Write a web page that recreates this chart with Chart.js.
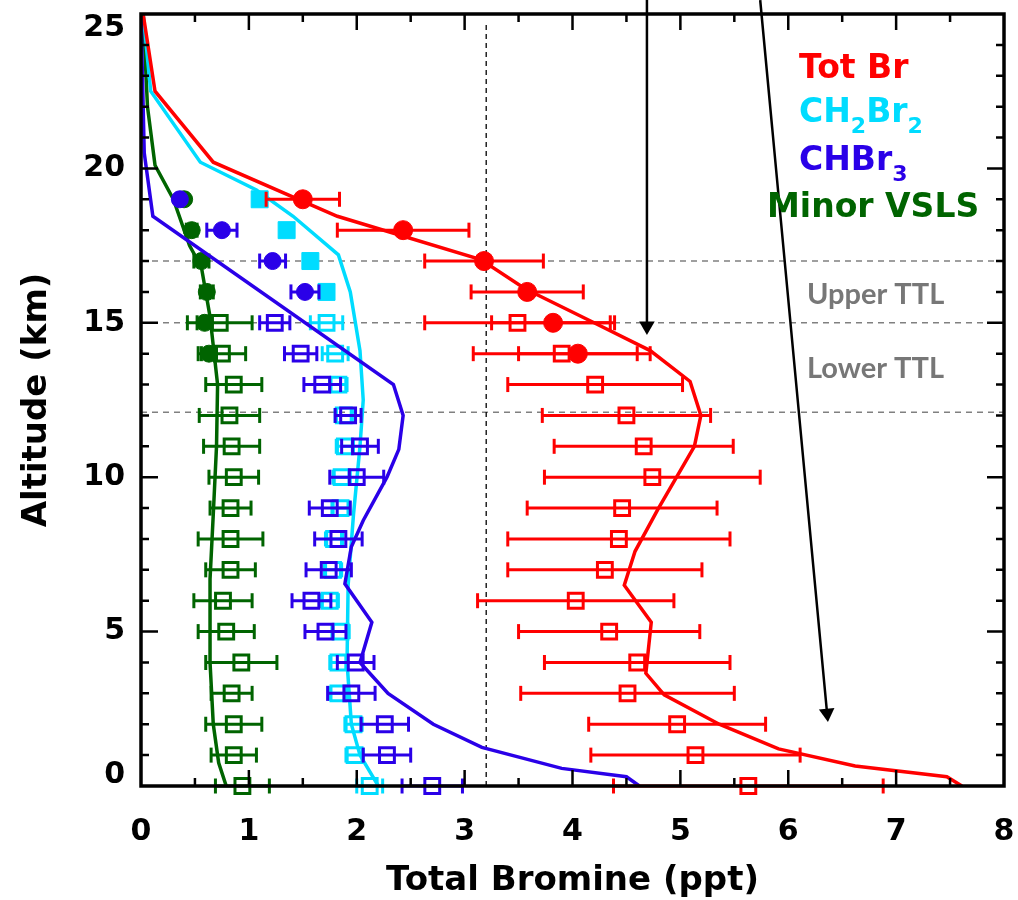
<!DOCTYPE html>
<html>
<head>
<meta charset="utf-8">
<script src="https://cdn.jsdelivr.net/npm/chart.js@4.4.1/dist/chart.umd.min.js"></script>
<style>
  html, body { margin: 0; padding: 0; background: #fff; }
  canvas { display: block; }
</style>
</head>
<body>
<canvas id="chart" width="1018" height="900"></canvas>
<script>
// altitude levels (km)
const sqAlt = [0, 1, 2, 3, 4, 5, 6, 7, 8, 9, 10, 11, 12, 13, 14, 15];
const fillAlt = [14, 15, 16, 17, 18, 19];
const upperAlt = [16, 17, 18, 19];

// open squares (0-15 km)
const totBrSq = [5.63, 5.14, 4.97, 4.51, 4.60, 4.34, 4.03, 4.30, 4.43, 4.46, 4.74, 4.66, 4.50, 4.21, 3.90, 3.49];
const totBrSqErr = [1.25, 0.97, 0.82, 0.99, 0.86, 0.84, 0.91, 0.90, 1.03, 0.88, 1.00, 0.83, 0.78, 0.81, 0.82, 0.86];
const ch2br2Sq = [2.12, 1.98, 1.97, 1.83, 1.83, 1.85, 1.75, 1.78, 1.79, 1.85, 1.86, 1.89, 1.88, 1.83, 1.80, 1.72];
const ch2br2SqErr = [0.12, 0.08, 0.08, 0.08, 0.08, 0.08, 0.08, 0.08, 0.08, 0.08, 0.08, 0.08, 0.08, 0.08, 0.12, 0.15];
const chbr3Sq = [2.70, 2.28, 2.26, 1.95, 1.99, 1.71, 1.58, 1.74, 1.83, 1.75, 2.00, 2.03, 1.92, 1.68, 1.48, 1.24];
const chbr3SqErr = [0.28, 0.22, 0.22, 0.22, 0.17, 0.19, 0.18, 0.21, 0.22, 0.19, 0.25, 0.17, 0.12, 0.17, 0.15, 0.14];
const minorSq = [0.94, 0.86, 0.86, 0.84, 0.93, 0.79, 0.76, 0.83, 0.83, 0.83, 0.86, 0.84, 0.82, 0.86, 0.75, 0.73];
const minorSqErr = [0.25, 0.21, 0.26, 0.19, 0.33, 0.26, 0.27, 0.23, 0.30, 0.19, 0.23, 0.26, 0.28, 0.26, 0.22, 0.30];

// filled symbols (upper levels)
const totBrFill = [4.05, 3.82, 3.58, 3.18, 2.43, 1.50];
const totBrFillErr = [0.55, 0.57, 0.52, 0.55, 0.61, 0.34];
const minorFill = [0.63, 0.59, 0.61, 0.56, 0.47, 0.40];
const minorFillErr = [0.07, 0.07, 0.06, 0.07, 0.05, 0.03];
const ch2br2Fill = [1.72, 1.57, 1.35, 1.10];
const ch2br2FillErr = [0.04, 0.05, 0.05, 0.04];
const chbr3Fill = [1.52, 1.22, 0.75, 0.36];
const chbr3FillErr = [0.13, 0.12, 0.14, 0.03];

// model profiles
const totBrModelAlt = [0, 0.3, 0.65, 1.2, 2.0, 2.95, 3.65, 5.3, 6.5, 7.6, 8.95, 11.0, 12.0, 13.1, 14.1, 15.0, 16.1, 17.05, 18.45, 20.2, 22.5, 25];
const totBrModel = [7.61, 7.47, 6.62, 5.91, 5.36, 4.85, 4.68, 4.73, 4.48, 4.58, 4.79, 5.13, 5.19, 5.09, 4.72, 4.20, 3.56, 3.15, 1.82, 0.67, 0.13, 0.02];
const ch2br2ModelAlt = [0, 1, 2, 4, 6.5, 8.8, 11, 12.5, 14.1, 16, 17.2, 18.45, 19.3, 20.2, 22.5, 25];
const ch2br2Model = [2.20, 2.03, 1.95, 1.91, 1.92, 1.97, 2.03, 2.06, 2.03, 1.94, 1.83, 1.41, 1.07, 0.55, 0.09, 0.02];
const chbr3ModelAlt = [0, 0.3, 0.57, 1.25, 2.0, 3.0, 4.0, 5.3, 6.55, 7.75, 8.6, 10, 10.9, 12, 13, 18.45, 20.5, 25];
const chbr3Model = [4.62, 4.50, 3.90, 3.16, 2.71, 2.29, 2.03, 2.14, 1.89, 1.95, 2.06, 2.28, 2.39, 2.43, 2.34, 0.11, 0.03, 0.0];
const minorModelAlt = [0, 0.75, 2, 4, 6.7, 8.8, 11, 13, 15.2, 16.8, 17.5, 19, 20.1, 22, 25];
const minorModel = [0.79, 0.72, 0.67, 0.64, 0.64, 0.67, 0.70, 0.71, 0.64, 0.56, 0.45, 0.30, 0.13, 0.06, 0.02];

// reference lines
const ttlAlt = [17, 15, 12.1];
const refX = 3.2;
const refTop = 24.65;

// arrows from the (cropped) panel title: [start, end]
const arrow1X = [4.69, 4.69];
const arrow1Y = [25.45, 14.9];
const arrow2X = [5.74, 6.36];
const arrow2Y = [25.45, 2.36];

const RED = '#ff0000';
const CYAN = '#00dcff';
const BLUE = '#2a00e8';
const GREEN = '#006400';
const FONT = "'DejaVu Sans', sans-serif";

const pts = (vals, alts) => vals.map((v, i) => ({ x: v, y: alts[i] }));
function errSegs(vals, errs, alts) {
  const out = [];
  vals.forEach((v, i) => {
    out.push({ x: v - errs[i], y: alts[i] }, { x: v + errs[i], y: alts[i] }, { x: null, y: null });
  });
  return out;
}

const datasets = [];
function add(ds) {
  ds.order = 1000 - datasets.length;   // later added is drawn on top
  datasets.push(ds);
}

// dashed guides
ttlAlt.forEach(a => add({
  data: [{ x: 0, y: a }, { x: 8, y: a }],
  showLine: true, borderColor: '#808080', borderWidth: 1.5, borderDash: [6, 5], pointRadius: 0
}));
add({
  data: [{ x: refX, y: 0 }, { x: refX, y: refTop }],
  showLine: true, borderColor: '#000', borderWidth: 1.3, borderDash: [5, 4], pointRadius: 0
});

function profile(vals, alts, color) {
  add({ data: pts(vals, alts), showLine: true, borderColor: color, borderWidth: 3.5, pointRadius: 0 });
}
function errorBars(vals, errs, alts, color) {
  add({
    data: errSegs(vals, errs, alts), showLine: true, spanGaps: false,
    borderColor: color, borderWidth: 3,
    pointStyle: 'line', pointRotation: 90, pointRadius: 7.5,
    pointBorderColor: color, pointBorderWidth: 3, clip: false
  });
}
function openSquares(vals, alts, color) {
  add({
    data: pts(vals, alts), showLine: false, pointStyle: 'rect', pointRadius: 10.5,
    pointBorderColor: color, pointBorderWidth: 3, pointBackgroundColor: 'rgba(0,0,0,0)', clip: false
  });
}
function filled(vals, alts, color, style, r) {
  add({
    data: pts(vals, alts), showLine: false, pointStyle: style, pointRadius: r,
    pointBorderColor: color, pointBorderWidth: 1, pointBackgroundColor: color, clip: false
  });
}

// Minor VSLS
profile(minorModel, minorModelAlt, GREEN);
errorBars(minorSq, minorSqErr, sqAlt, GREEN);
errorBars(minorFill, minorFillErr, fillAlt, GREEN);
openSquares(minorSq, sqAlt, GREEN);
filled(minorFill, fillAlt, GREEN, 'circle', 8.5);

// CH2Br2
profile(ch2br2Model, ch2br2ModelAlt, CYAN);
errorBars(ch2br2Sq, ch2br2SqErr, sqAlt, CYAN);
errorBars(ch2br2Fill, ch2br2FillErr, upperAlt, CYAN);
openSquares(ch2br2Sq, sqAlt, CYAN);
filled(ch2br2Fill, upperAlt, CYAN, 'rect', 12);

// CHBr3
profile(chbr3Model, chbr3ModelAlt, BLUE);
errorBars(chbr3Sq, chbr3SqErr, sqAlt, BLUE);
errorBars(chbr3Fill, chbr3FillErr, upperAlt, BLUE);
openSquares(chbr3Sq, sqAlt, BLUE);
filled(chbr3Fill, upperAlt, BLUE, 'circle', 8.5);

// Total Br
profile(totBrModel, totBrModelAlt, RED);
errorBars(totBrSq, totBrSqErr, sqAlt, RED);
errorBars(totBrFill, totBrFillErr, fillAlt, RED);
openSquares(totBrSq, sqAlt, RED);
filled(totBrFill, fillAlt, RED, 'circle', 9.5);

// arrows
add({
  data: pts(arrow1X, arrow1Y), showLine: true, borderColor: '#000', borderWidth: 2.5,
  pointStyle: ['circle', 'triangle'], pointRadius: [7, 9], pointRotation: [0, 180],
  pointBackgroundColor: '#000', pointBorderColor: '#000', pointBorderWidth: 0, clip: false
});
add({
  data: pts(arrow2X, arrow2Y), showLine: true, borderColor: '#000', borderWidth: 2.5,
  pointStyle: 'triangle', pointRadius: [0, 9], pointRotation: [0, 174.6],
  pointBackgroundColor: '#000', pointBorderColor: '#000', pointBorderWidth: 0, clip: false
});

// frame with inward ticks on all four sides, y labels kept inside the frame height
const framePlugin = {
  id: 'frame',
  afterDatasetsDraw(chart) {
    const { ctx, chartArea: a, scales: { x, y } } = chart;
    ctx.save();
    ctx.strokeStyle = '#000';
    ctx.lineWidth = 2.5;
    ctx.beginPath();
    for (let v = 0.5; v < 8; v += 0.5) {
      const px = x.getPixelForValue(v);
      const len = v % 1 === 0 ? 16 : 8;
      ctx.moveTo(px, a.bottom); ctx.lineTo(px, a.bottom - len);
      ctx.moveTo(px, a.top); ctx.lineTo(px, a.top + len);
    }
    for (let v = 1; v < 25; v += 1) {
      const py = y.getPixelForValue(v);
      const len = v % 5 === 0 ? 17 : 8;
      ctx.moveTo(a.left, py); ctx.lineTo(a.left + len, py);
      ctx.moveTo(a.right, py); ctx.lineTo(a.right - len, py);
    }
    ctx.stroke();
    ctx.lineWidth = 3.5;
    ctx.strokeRect(a.left, a.top, a.right - a.left, a.bottom - a.top);

    ctx.fillStyle = '#000';
    ctx.font = `bold 30px ${FONT}`;
    ctx.textAlign = 'right';
    ctx.textBaseline = 'middle';
    y.ticks.forEach(t => {
      const py = Math.min(Math.max(y.getPixelForValue(t.value), a.top + 14), a.bottom - 11);
      ctx.fillText(String(t.value), a.left - 16, py);
    });
    ctx.restore();
  }
};

function chem(ctx, parts, x, y, color) {
  ctx.fillStyle = color;
  parts.forEach(([t, sub]) => {
    ctx.font = sub ? `bold 22px ${FONT}` : `bold 33px ${FONT}`;
    ctx.fillText(t, x, y + (sub ? 11 : 0));
    x += ctx.measureText(t).width;
  });
}

const textPlugin = {
  id: 'texts',
  afterDraw(chart) {
    const ctx = chart.ctx;
    ctx.save();
    ctx.textBaseline = 'alphabetic';
    ctx.textAlign = 'left';
    chem(ctx, [['Tot Br', 0]], 799, 78, RED);
    chem(ctx, [['CH', 0], ['2', 1], ['Br', 0], ['2', 1]], 799, 122, CYAN);
    chem(ctx, [['CHBr', 0], ['3', 1]], 799, 170, BLUE);
    chem(ctx, [['Minor VSLS', 0]], 767, 217, GREEN);
    ctx.fillStyle = '#777';
    ctx.font = "bold 29px Lato, 'Open Sans', sans-serif";
    ctx.fillText('Upper TTL', 807, 304);
    ctx.fillText('Lower TTL', 807, 378);
    ctx.restore();
  }
};

function noOverhang(s) {
  s.paddingTop = 0; s.paddingBottom = 0; s.paddingLeft = 0; s.paddingRight = 0;
}

new Chart(document.getElementById('chart'), {
  type: 'scatter',
  data: { datasets },
  options: {
    responsive: false,
    animation: false,
    devicePixelRatio: 1,
    layout: { padding: { top: 14, right: 14, left: 0, bottom: 0 } },
    plugins: { legend: { display: false }, tooltip: { enabled: false } },
    scales: {
      x: {
        type: 'linear', position: 'bottom', min: 0, max: 8,
        grid: { display: false, drawTicks: false },
        border: { display: false },
        ticks: { stepSize: 1, color: '#000', padding: 28, font: { family: FONT, size: 30, weight: 'bold' } },
        title: { display: true, text: 'Total Bromine (ppt)', color: '#000', padding: { top: 0, bottom: -2 },
                 font: { family: FONT, size: 34, weight: 'bold' } },
        afterFit(s) { s.height = 114; noOverhang(s); }
      },
      y: {
        type: 'linear', position: 'left', min: 0, max: 25,
        grid: { display: false, drawTicks: false },
        border: { display: false },
        ticks: { stepSize: 5, display: false, font: { family: FONT, size: 30, weight: 'bold' } },
        title: { display: true, text: 'Altitude (km)', color: '#000', padding: { top: 17, bottom: 0 },
                 font: { family: FONT, size: 34, weight: 'bold' } },
        afterFit(s) { s.width = 141; noOverhang(s); }
      }
    }
  },
  plugins: [framePlugin, textPlugin]
});
</script>
</body>
</html>
